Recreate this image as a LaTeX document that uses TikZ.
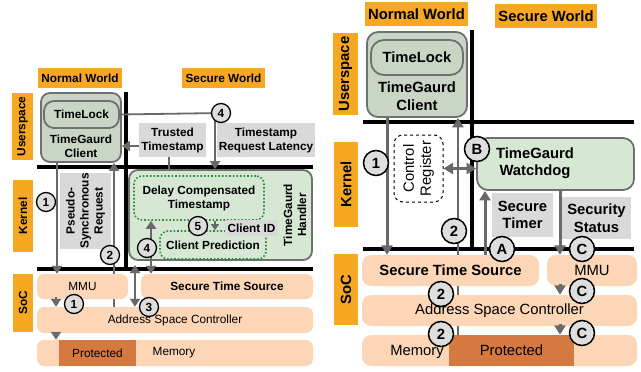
\documentclass[tikz,border=0pt]{standalone}
\usepackage{fontspec}
\setmainfont{Liberation Sans}
\usetikzlibrary{arrows.meta,shapes.geometric}
\definecolor{org}{RGB}{247,168,34}
\definecolor{soc}{RGB}{252,214,182}
\definecolor{prot}{RGB}{214,121,64}
\definecolor{gbox}{RGB}{217,217,217}
\definecolor{agray}{RGB}{105,105,105}
\definecolor{bgray}{RGB}{112,112,112}
\definecolor{cfill}{RGB}{201,213,197}
\definecolor{hfill}{RGB}{214,232,212}
\definecolor{dgreen}{RGB}{40,140,60}
\definecolor{cgray}{RGB}{222,222,222}
\pgfdeclarelayer{bg}
\pgfsetlayers{bg,main}
\tikzset{
 fL/.style={font=\fontsize{11.8}{14}\selectfont\bfseries},
 nL/.style={font=\fontsize{11.8}{14}\selectfont},
 fR/.style={font=\fontsize{14.8}{17.5}\selectfont\bfseries},
 nR/.style={font=\fontsize{14.8}{17}\selectfont},
 lab/.style={fill=org, inner sep=0pt, align=center},
 gb/.style={fill=gbox, inner sep=0pt, align=center},
 socbox/.style={fill=soc, rounded corners=7pt, inner sep=0pt},
 protbox/.style={fill=prot, inner sep=0pt},
 cbox/.style={draw=bgray, line width=1.8pt, fill=cfill, rounded corners=9pt, inner sep=0pt},
 hbox/.style={draw=bgray, line width=1.8pt, fill=hfill, rounded corners=9pt, inner sep=0pt},
 dbox/.style={draw=dgreen, line width=1.6pt, dotted, rounded corners=8pt, inner sep=0pt},
 crbox/.style={draw=black, line width=1pt, dashed, rounded corners=9pt, inner sep=0pt, align=center},
 crL/.style={circle, draw=black, line width=1.3pt, fill=cgray, minimum size=19pt, inner sep=0pt, fL},
 crR/.style={circle, draw=black, line width=1.5pt, fill=cgray, minimum size=25pt, inner sep=0pt, fR},
 arr/.style={draw=agray, line width=2.6pt, -{Triangle[length=8pt,width=10pt]}},
 darr/.style={draw=agray, line width=2.6pt, {Triangle[length=8pt,width=10pt]}-{Triangle[length=8pt,width=10pt]}},
 arrR/.style={draw=agray, line width=3pt, -{Triangle[length=9.5pt,width=11pt]}},
 darrR/.style={draw=agray, line width=3pt, {Triangle[length=9.5pt,width=11pt]}-{Triangle[length=9.5pt,width=11pt]}},
 plainln/.style={draw=agray, line width=2.2pt},
 sepln/.style={draw=black, line width=3.2pt},
 txt/.style={inner sep=0pt, align=center},
}
\begin{document}
\begin{tikzpicture}[x=1pt,y=-1pt]
\useasboundingbox (0,0) rectangle (641,372);
%%%%%%%%%%%%%%%% LEFT PANEL
\node[lab,fL,minimum width=84pt,minimum height=20pt] (nwL) at (80,78) {Normal World};
\node[lab,fL,minimum width=83pt,minimum height=20pt] (swL) at (223.5,78) {Secure World};
\node[lab,fL,rotate=90,minimum width=67pt,minimum height=21pt] (usL) at (22.5,126.5) {Userspace};
\node[lab,fL,rotate=90,minimum width=72pt,minimum height=20pt] (kL) at (23,216) {Kernel};
\node[lab,fL,rotate=90,minimum width=58pt,minimum height=20pt] (socL) at (23,303) {SoC};

% boxes
\node[cbox,minimum width=80pt,minimum height=69pt] (clientL) at (81,127.5) {};
\node[cbox,minimum width=75pt,minimum height=27pt,fL,rounded corners=10pt] (tlL) at (81.5,114.5) {TimeLock};
\node[txt,fL] (clientLt) at (81,146) {TimeGaurd\\Client};
\node[gb,fL,minimum width=67pt,minimum height=34pt] (trL) at (172.5,140) {Trusted\\Timestamp};
\node[gb,fL,minimum width=98pt,minimum height=34pt] (latL) at (266,140) {Timestamp\\Request Latency};
\node[gb,fL,rotate=90,minimum width=72pt,minimum height=51pt] (psL) at (85.5,211) {Pseudo-\\Synchronous\\Request};
\node[hbox,minimum width=183pt,minimum height=90pt] (hdL) at (220.5,215) {};
\node[txt,fL,rotate=90] (hdLt) at (295,215) {TimeGaurd\\Handler};
\node[dbox,fL,align=center,minimum width=130pt,minimum height=44pt] (dcL) at (199,198) {Delay Compensated\\Timestamp};
\node[dbox,fL,minimum width=106pt,minimum height=28pt] (cpL) at (213,245) {Client Prediction};
\node[gb,fL,minimum width=53pt,minimum height=16pt] (cidL) at (251.5,228) {Client ID};

% SoC
\node[socbox,nL,minimum width=91pt,minimum height=25pt] (mmuL) at (82.5,286.5) {MMU};
\node[socbox,fL,minimum width=172pt,minimum height=25pt] (stsL) at (227,286.5) {Secure Time Source};
\node[socbox,nL,minimum width=276pt,minimum height=26pt] (ascL) at (175,320) {Address Space Controller};
\node[socbox,minimum width=276pt,minimum height=26pt] (memL) at (175,353) {};
\node[protbox,nL,minimum width=77pt,minimum height=26pt] (protL) at (97.5,353) {Protected};
\node[txt,nL] (memLt) at (174,353) {Memory};

\begin{pgfonlayer}{bg}
\draw[sepln] (126,92) -- (126,269);
\draw[sepln] (37,167) -- (313,167);
\draw[sepln] (37,269) -- (313,269);
\draw[arr,line width=2.2pt] (114,307) -- (clientL.south -| 114,0);
\draw[arr] (hdL.north -| 169,0) |- (clientL.east |- 0,146);
\end{pgfonlayer}

% arrows
\draw[plainln,line width=1.8pt] (tlL.east) -- (221,113);
\draw[arr] (215,120) -- (hdL.north -| 215,0);
\draw[arr] (clientL.south -| 57,0) -- (mmuL.north -| 57,0);
\draw[darr] (dcL.south -| 151,0) -- (stsL.north -| 151,0);
\draw[arr,line width=2pt,-{Triangle[length=6pt,width=8pt]}] (dcL.south -| 215,0) -- (cpL.north -| 215,0);
\draw[darr] (135,265) -- (ascL.north -| 135,0);
\draw[arr] (56,297) -- (ascL.north -| 56,0);
\draw[arr] (56,332) -- (memL.north -| 56,0);

% circles
\node[crL] (c4aL) at (221,113) {4};
\node[crL] (c1aL) at (46,202) {1};
\node[crL] (c2aL) at (110,255) {2};
\node[crL] (c5L) at (198,226) {5};
\node[crL] (c4bL) at (147,248) {4};
\node[crL] (c3L) at (149,307) {3};
\node[crL] (c1bL) at (74,304) {1};

%%%%%%%%%%%%%%%% RIGHT PANEL
\node[lab,fR,minimum width=103pt,minimum height=24pt] (nwR) at (416.5,14) {Normal World};
\node[lab,fR,minimum width=102pt,minimum height=24pt] (swR) at (546,16) {Secure World};
\node[lab,fR,rotate=90,minimum width=82pt,minimum height=25pt] (usR) at (345.5,74) {Userspace};
\node[lab,fR,rotate=90,minimum width=85pt,minimum height=24pt] (kR) at (346,184.5) {Kernel};
\node[lab,fR,rotate=90,minimum width=71pt,minimum height=24pt] (socR) at (346,289.5) {SoC};

\node[cbox,minimum width=100pt,minimum height=85pt,rounded corners=11pt] (clientR) at (417,74.5) {};
\node[cbox,fR,minimum width=92pt,minimum height=35pt,rounded corners=13pt] (tlR) at (417,57.5) {TimeLock};
\node[txt,fR] (clientRt) at (417,96) {TimeGaurd\\Client};
\node[crbox,nR,rotate=90,minimum width=67pt,minimum height=49pt] (crR1) at (418.5,168.5) {Control\\Register};
\node[hbox,minimum width=157pt,minimum height=52pt,rounded corners=11pt] (wdR) at (555.5,164) {};
\node[txt,fR] (wdRt) at (535,163) {TimeGaurd\\Watchdog};
\node[gb,fR,minimum width=61pt,minimum height=44pt] (stR) at (522.5,215) {Secure\\Timer};
\node[gb,fR,minimum width=69pt,minimum height=42pt] (ssR) at (596.5,218) {Security\\Status};

\node[socbox,fR,minimum width=177pt,minimum height=31pt,rounded corners=9pt] (stsR) at (450.5,270.5) {Secure Time Source};
\node[socbox,nR,minimum width=90pt,minimum height=31pt,rounded corners=9pt] (mmuR) at (592,270.5) {MMU};
\node[socbox,nR,minimum width=275pt,minimum height=31pt,rounded corners=9pt] (ascR) at (499.5,310.5) {Address Space Controller};
\node[socbox,minimum width=275pt,minimum height=31pt,rounded corners=9pt] (memR) at (499.5,350.5) {};
\node[protbox,nR,minimum width=125pt,minimum height=31pt] (protR) at (511.5,350.5) {Protected};
\node[txt,nR] (memRt) at (417,352) {Memory};

\begin{pgfonlayer}{bg}
\draw[sepln] (472,30) -- (472,249);
\draw[sepln] (363,122) -- (634,122);
\draw[sepln] (363,249) -- (634,249);
\draw[arrR,line width=2.4pt] (memR.north -| 458,0) -- (clientR.south -| 458,0);
\end{pgfonlayer}

\draw[arrR] (clientR.south -| 387,0) -- (stsR.north -| 387,0);
\draw[darrR] (crR1.south) -- (wdR.west |- crR1.south);
\draw[arrR] (stsR.north -| 485,0) -- (wdR.south -| 485,0);
\draw[arrR] (wdR.south -| 560,0) -- (mmuR.north -| 560,0);
\draw[arrR] (560,284) -- (ascR.north -| 560,0);
\draw[arrR] (560,324) -- (memR.north -| 560,0);

\node[crR] (c1R) at (376,163) {1};
\node[crR] (cBR) at (477,149) {B};
\node[crR] (c2aR) at (454,231) {2};
\node[crR] (cAR) at (502,249) {A};
\node[crR] (cCaR) at (582,249) {C};
\node[crR] (c2bR) at (441,294) {2};
\node[crR] (cCbR) at (582,291) {C};
\node[crR] (c2cR) at (441,334) {2};
\node[crR] (cCcR) at (582,333) {C};
\end{tikzpicture}
\end{document}
